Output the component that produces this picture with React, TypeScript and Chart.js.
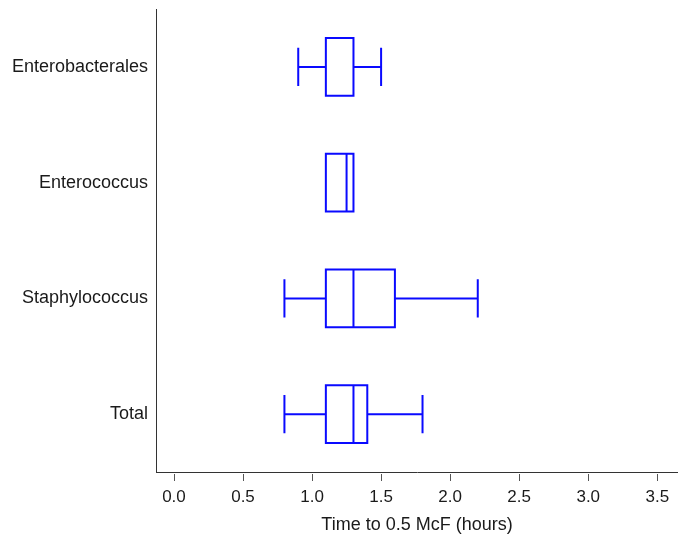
import { useEffect, useRef } from 'react';
import { Chart, registerables } from 'chart.js';

Chart.register(...registerables);

// Box-plot summary per organism group (hours)
const categories = ['Enterobacterales', 'Enterococcus', 'Staphylococcus', 'Total'];
const whiskerLow = [0.9, 1.1, 0.8, 0.8];
const quartile1 = [1.1, 1.1, 1.1, 1.1];
const medians = [1.3, 1.25, 1.3, 1.3];
const quartile3 = [1.3, 1.3, 1.6, 1.4];
const whiskerHigh = [1.5, 1.3, 2.2, 1.8];

const xTickValues = [0, 0.5, 1, 1.5, 2, 2.5, 3, 3.5];
const xTitle = 'Time to 0.5 McF (hours)';

const BOX_COLOR = '#0a0aff';
const AXIS_COLOR = '#333333';
const TEXT_COLOR = '#1a1a1a';
const FONT = 'Arial, "Liberation Sans", Helvetica, sans-serif';

// Draws box outlines, whiskers, caps and medians from the bar elements' geometry
const boxPlotPlugin = {
  id: 'boxPlotPlugin',
  afterDatasetsDraw(chart: any) {
    const meta = chart.getDatasetMeta(0);
    const xs = chart.scales.x;
    const ctx = chart.ctx;
    ctx.save();
    ctx.strokeStyle = BOX_COLOR;
    ctx.lineWidth = 2;
    meta.data.forEach((bar: any, i: number) => {
      const { y, height } = bar.getProps(['y', 'height'], true);
      const half = height / 2;
      const cap = height * 0.33;
      const pMin = xs.getPixelForValue(whiskerLow[i]);
      const pQ1 = xs.getPixelForValue(quartile1[i]);
      const pMed = xs.getPixelForValue(medians[i]);
      const pQ3 = xs.getPixelForValue(quartile3[i]);
      const pMax = xs.getPixelForValue(whiskerHigh[i]);
      ctx.beginPath();
      // box
      ctx.rect(pQ1, y - half, pQ3 - pQ1, height);
      // median
      ctx.moveTo(pMed, y - half);
      ctx.lineTo(pMed, y + half);
      // whisker stems and caps
      if (pMin < pQ1) {
        ctx.moveTo(pMin, y);
        ctx.lineTo(pQ1, y);
        ctx.moveTo(pMin, y - cap);
        ctx.lineTo(pMin, y + cap);
      }
      if (pMax > pQ3) {
        ctx.moveTo(pQ3, y);
        ctx.lineTo(pMax, y);
        ctx.moveTo(pMax, y - cap);
        ctx.lineTo(pMax, y + cap);
      }
      ctx.stroke();
    });

    // x-axis tick marks, set slightly below the axis line
    const bottom = chart.chartArea.bottom;
    ctx.strokeStyle = '#555555';
    ctx.lineWidth = 1;
    ctx.beginPath();
    xTickValues.forEach((v) => {
      const px = Math.round(xs.getPixelForValue(v)) + 0.5;
      ctx.moveTo(px, bottom + 2);
      ctx.lineTo(px, bottom + 9);
    });
    ctx.stroke();
    ctx.restore();
  },
};

export default function App() {
  const canvasRef = useRef<HTMLCanvasElement | null>(null);

  useEffect(() => {
    if (!canvasRef.current) return;
    const chart = new Chart(canvasRef.current, {
      type: 'bar',
      data: {
        labels: categories,
        datasets: [
          {
            data: categories.map((_, i) => [quartile1[i], quartile3[i]]) as any,
            backgroundColor: 'rgba(0,0,0,0)',
            borderColor: 'rgba(0,0,0,0)',
            borderWidth: 0,
            barPercentage: 0.5,
            categoryPercentage: 1,
          },
        ],
      },
      options: {
        indexAxis: 'y',
        animation: false,
        responsive: true,
        maintainAspectRatio: false,
        layout: { padding: { top: 9, right: 0, bottom: 0, left: 0 } },
        plugins: {
          legend: { display: false },
          tooltip: { enabled: false },
        },
        scales: {
          x: {
            type: 'linear',
            min: -0.13,
            max: 3.65,
            afterBuildTicks: (scale: any) => {
              scale.ticks = xTickValues.map((v) => ({ value: v }));
            },
            afterFit: (scale: any) => {
              scale.height = 65;
              scale.paddingLeft = 0;
              scale.paddingRight = 0;
            },
            grid: { display: false, drawTicks: false },
            border: { display: true, color: AXIS_COLOR, width: 1 },
            ticks: {
              color: TEXT_COLOR,
              font: { family: FONT, size: 17 },
              padding: 15,
              maxRotation: 0,
              callback: (v: any) => Number(v).toFixed(1),
            },
            title: {
              display: true,
              text: xTitle,
              color: TEXT_COLOR,
              font: { family: FONT, size: 18 },
              padding: { top: 4, bottom: 1 },
            },
          },
          y: {
            type: 'category',
            offset: true,
            afterFit: (scale: any) => {
              scale.width = 156;
              scale.paddingTop = 0;
              scale.paddingBottom = 0;
            },
            grid: { display: false, drawTicks: false },
            border: { display: true, color: AXIS_COLOR, width: 1 },
            ticks: {
              color: TEXT_COLOR,
              font: { family: FONT, size: 18 },
              padding: 8,
            },
          },
        },
      },
      plugins: [boxPlotPlugin],
    });
    return () => chart.destroy();
  }, []);

  return (
    <div
      style={{
        position: 'fixed',
        left: 0,
        top: 0,
        width: 678,
        height: 537,
        background: '#ffffff',
      }}
    >
      <canvas ref={canvasRef} />
    </div>
  );
}
